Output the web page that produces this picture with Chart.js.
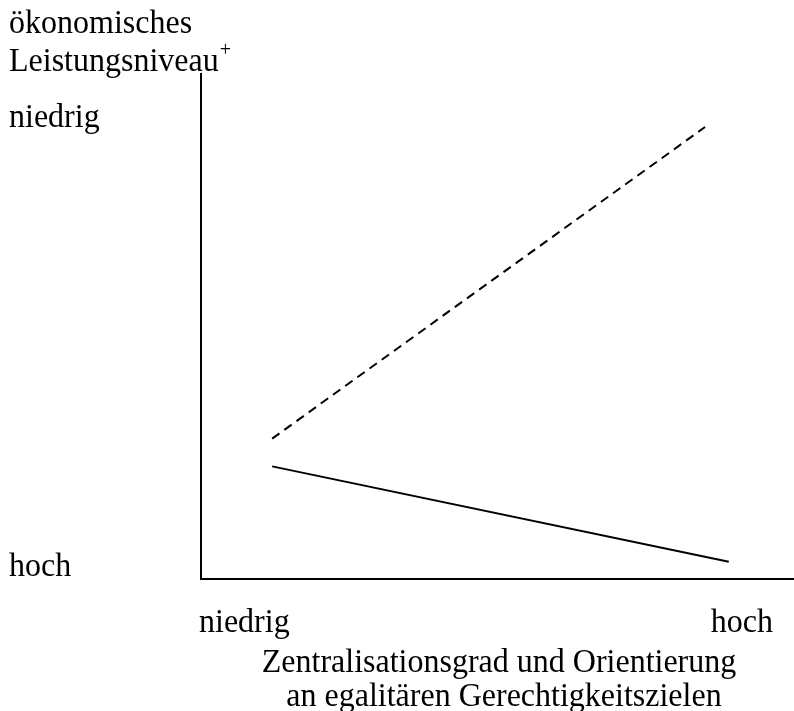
<!DOCTYPE html>
<html lang="de">
<head>
<meta charset="utf-8">
<title>Leistungsniveau</title>
<script src="https://cdn.jsdelivr.net/npm/chart.js@4"></script>
<style>
  html, body { margin: 0; padding: 0; background: #fff; }
  #wrap { width: 794px; height: 711px; position: relative; }
</style>
</head>
<body>
<div id="wrap"><canvas id="grafik"></canvas></div>
<script>
"use strict";

// x: Zentralisationsgrad (0 = niedrig, 100 = hoch)
const xWerte = [12, 85];
const xWerteLinie = [12, 89];
// y: oekonomisches Leistungsniveau (0 = hoch unten, 100 = niedrig oben)
const gestrichelt = [27.8, 89.5];
const durchgezogen = [22.3, 3.4];

const yTitel = ["ökonomisches", "Leistungsniveau"];
const yTicks = ["niedrig", "hoch"];
const xTicks = ["niedrig", "hoch"];
const xTitel = ["Zentralisationsgrad und Orientierung", "an egalitären Gerechtigkeitszielen"];

const schrift = "32px 'Liberation Serif', 'Times New Roman', serif";
const streckung = 1.08;

function punkte(xs, ys) {
    return xs.map(function (x, i) { return { x: x, y: ys[i] }; });
}

function text(ctx, t, x, y) {
    ctx.save();
    ctx.translate(x, y);
    ctx.scale(1, streckung);
    ctx.fillText(t, 0, 0);
    ctx.restore();
}

const textPlugin = {
    id: "texte",
    afterDraw(chart) {
        const ctx = chart.ctx;
        ctx.save();
        ctx.fillStyle = "#000";
        ctx.font = schrift;
        ctx.textBaseline = "alphabetic";

        // y-Achsentitel
        ctx.textAlign = "left";
        text(ctx, yTitel[0], 9, 33);
        text(ctx, yTitel[1], 9, 71);
        const w = ctx.measureText(yTitel[1]).width;
        ctx.font = "20px 'Liberation Serif', serif";
        text(ctx, "+", 9 + w + 1, 56);
        ctx.font = schrift;

        // y-Beschriftung
        text(ctx, yTicks[0], 9, 127);
        text(ctx, yTicks[1], 9, 576);

        // x-Beschriftung
        text(ctx, xTicks[0], 199, 632);
        ctx.textAlign = "right";
        text(ctx, xTicks[1], 773, 632);

        // x-Achsentitel
        ctx.textAlign = "center";
        text(ctx, xTitel[0], 499, 672);
        text(ctx, xTitel[1], 504, 706);
        ctx.restore();
    }
};

new Chart(document.getElementById("grafik"), {
    type: "line",
    data: {
        datasets: [
            {
                data: punkte(xWerte, gestrichelt),
                borderColor: "#000",
                borderWidth: 2,
                borderDash: [9, 6],
                pointRadius: 0,
                fill: false
            },
            {
                data: punkte(xWerteLinie, durchgezogen),
                borderColor: "#000",
                borderWidth: 2,
                pointRadius: 0,
                fill: false
            }
        ]
    },
    options: {
        responsive: true,
        maintainAspectRatio: false,
        animation: false,
        layout: {
            padding: { left: 193, top: 74, right: 0, bottom: 124 }
        },
        plugins: {
            legend: { display: false },
            tooltip: { enabled: false }
        },
        scales: {
            x: {
                type: "linear",
                min: 0,
                max: 100,
                grid: { display: false },
                ticks: { display: false },
                border: { display: true, color: "#000", width: 2 }
            },
            y: {
                type: "linear",
                min: 0,
                max: 100,
                grid: { display: false },
                ticks: { display: false },
                border: { display: true, color: "#000", width: 2 }
            }
        }
    },
    plugins: [textPlugin]
});
</script>
</body>
</html>
